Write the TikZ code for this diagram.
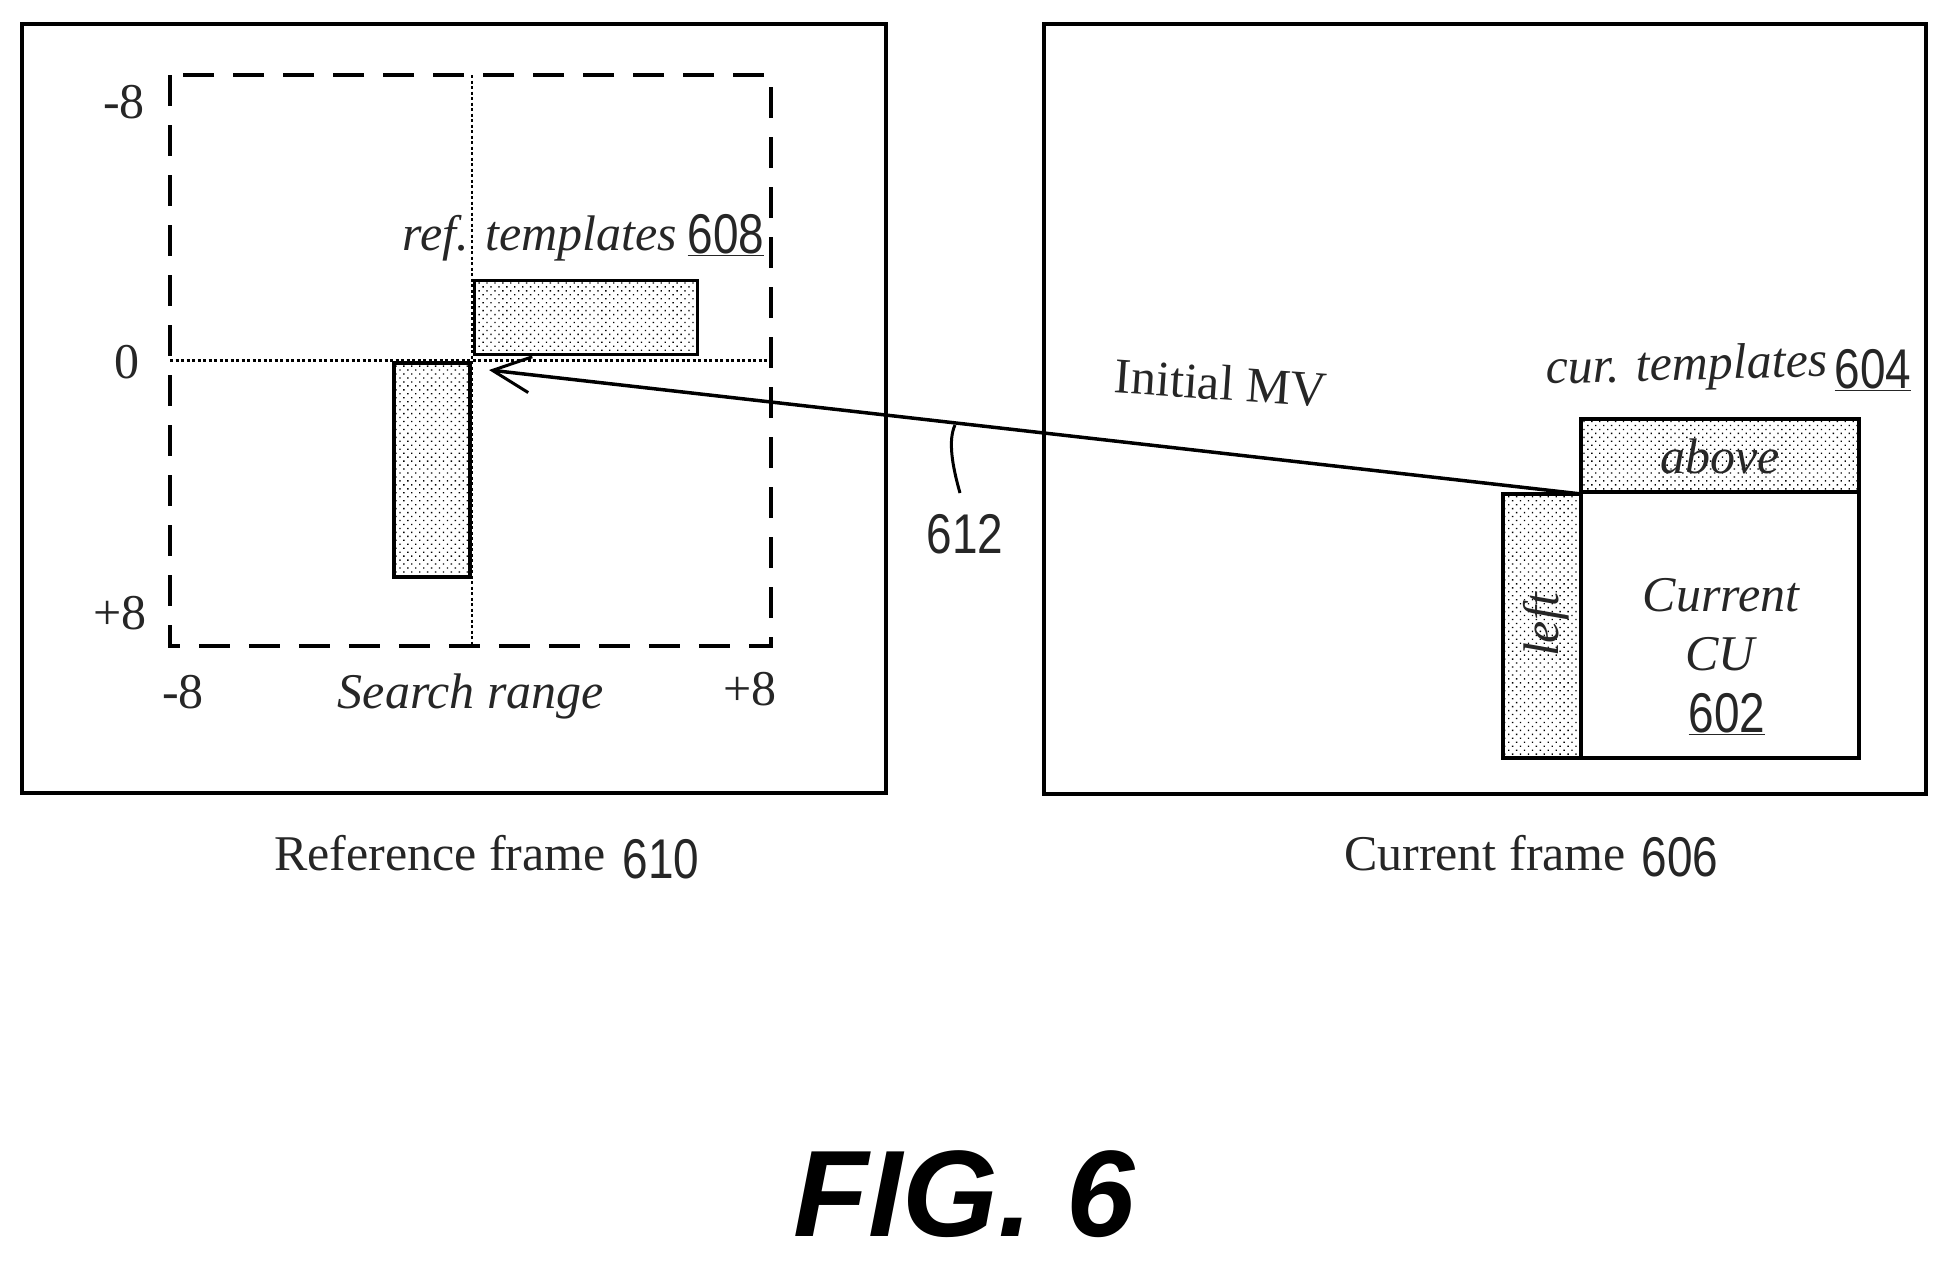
\documentclass[tikz,border=0pt]{standalone}
\usepackage{fontspec}
\usetikzlibrary{arrows.meta,patterns.meta}
\setmainfont{Liberation Serif}
\newfontfamily\numfont[FakeStretch=0.82]{Liberation Sans}
\newfontfamily\figfont{Liberation Sans}
\tikzset{
  frameb/.style={draw=black,line width=4pt,fill=none,rectangle,inner sep=0pt},
  tmpl/.style={draw=black,line width=3.5pt,rectangle,inner sep=0pt,
    pattern={Dots[radius=0.95pt,distance=5.6pt,angle=45]},pattern color=black},
  serif/.style={font=\fontsize{50}{54}\selectfont,inner sep=0pt,text=black!85},
  serifit/.style={font=\fontsize{50}{54}\selectfont\itshape,inner sep=0pt,text=black!85},
  numl/.style={font=\numfont\fontsize{56}{60}\selectfont,inner sep=0pt,text=black!85},
  crossl/.style={line width=2.5pt,dash pattern=on 3pt off 2.5pt},
}
\begin{document}
\begin{tikzpicture}[x=1pt,y=-1pt]
\useasboundingbox (0,0) rectangle (1948,1261);
% frames
\node[frameb,minimum width=864pt,minimum height=769pt] (refframe) at (454,408.5) {};
\node[frameb,minimum width=882pt,minimum height=770pt] (curframe) at (1485,408.5) {};
% search range
\coordinate (srTL) at (170,75);
\coordinate (srBR) at (771,646);
\draw[line width=3.5pt,dash pattern=on 31pt off 19pt] (srTL) rectangle (srBR);
\draw[crossl] (472,75) -- (472,646);
\draw[crossl] (170,360.5) -- (771,360.5);
% reference templates
\node[tmpl,minimum width=223pt,minimum height=74pt] (reftop) at (586,317.5) {};
\node[tmpl,minimum width=76pt,minimum height=214pt] (refleft) at (432,470) {};
% current
\node[frameb,line width=3.5pt,minimum width=278pt,minimum height=266pt] (cu) at (1720,625) {};
\node[tmpl,minimum width=278pt,minimum height=73pt] (above) at (1720,455.5) {};
\node[serifit] (abovetxt) at (1720,456) {above};
\node[tmpl,minimum width=78pt,minimum height=264pt] (leftb) at (1542,626) {};
\node[serifit,rotate=90] (lefttxt) at (1546,625) {left};
% MV arrow
\coordinate (mvtip) at (489,370);
\draw[line width=3.5pt,-{Straight Barb[length=38pt,width=36pt,line width=3pt]}] (above.south west) -- (mvtip);
% lead line
\coordinate (leadtop) at (955,425);
\coordinate (leadend) at (960,493);
\node[numl] (n612) at (965,534) {612};
\draw[line width=3pt] (leadtop) .. controls (948,440) and (952,465) .. (leadend);
% labels
\node[serif] (m8t) at (124,102) {-8};
\node[serif] (z0) at (127,362) {0};
\node[serif] (p8l) at (120,613) {+8};
\node[serif] (m8b) at (183,692) {-8};
\node[serif] (p8r) at (750,689) {+8};
\node[serifit] (search) at (471,696) {Search range};
\node[serifit] (reft) at (540,238) {ref. templates};
\node[numl] (n608) at (726,235) {\underline{608}};
\node[serif] (refcap) at (440,853) {Reference frame};
\node[numl] (n610) at (661,859) {610};
\node[serif,rotate=-4] (imv) at (1221,383) {Initial MV};
\node[serifit,rotate=1.5] (curt) at (1687,368) {cur. templates};
\node[numl] (n604) at (1873,370) {\underline{604}};
\node[serifit] (curr) at (1721,595) {Current};
\node[serifit] (cutxt) at (1720,654) {CU};
\node[numl] (n602) at (1727,714) {\underline{602}};
\node[serif] (curcap) at (1485,853) {Current frame};
\node[numl] (n606) at (1680,857) {606};
\node[font=\figfont\bfseries\itshape\fontsize{123}{130}\selectfont,inner sep=0pt] (fig) at (964,1194) {FIG. 6};
\end{tikzpicture}
\end{document}
